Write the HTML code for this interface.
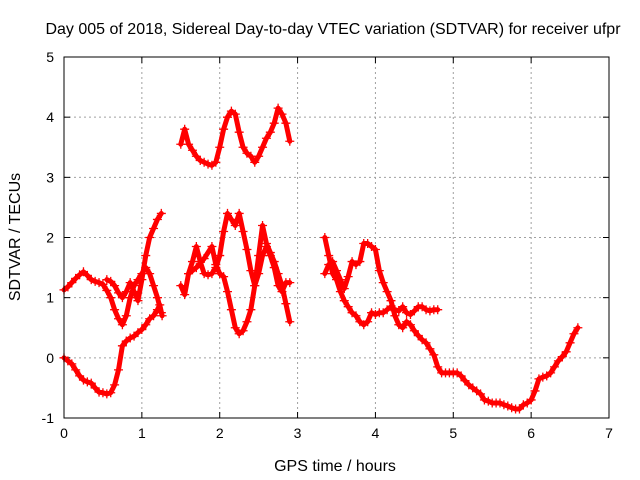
<!DOCTYPE html>
<html><head><meta charset="utf-8"><style>
body{margin:0;background:#fff;}
svg{display:block;font-family:"Liberation Sans",sans-serif;}
</style></head><body>
<svg id="chart" width="640" height="480" xmlns="http://www.w3.org/2000/svg">
<text x="333" y="34" font-size="16" text-anchor="middle">Day 005 of 2018, Sidereal Day-to-day VTEC variation (SDTVAR) for receiver ufpr</text>
<text x="335" y="471" font-size="16" text-anchor="middle">GPS time / hours</text>
<text transform="translate(20,237) rotate(-90)" font-size="16" text-anchor="middle">SDTVAR / TECUs</text>
<g id="grid"></g><g id="ticks"></g><g id="marks"></g>
<rect x="64" y="57" width="545" height="361" fill="none" stroke="#000" stroke-width="1"/>
</svg>
<script>
const xTicks=[0,1,2,3,4,5,6,7];
const yTicks=[-1,0,1,2,3,4,5];
const traceA=[[0,0],[0.05,-0.05],[0.1,-0.1],[0.15,-0.2],[0.2,-0.3],[0.25,-0.37],[0.3,-0.4],[0.35,-0.42],[0.4,-0.5],[0.45,-0.57],[0.5,-0.58],[0.55,-0.6],[0.6,-0.58],[0.65,-0.45],[0.7,-0.2],[0.75,0.2],[0.8,0.28],[0.85,0.33],[0.9,0.36],[0.95,0.42],[1.0,0.47],[1.05,0.55],[1.1,0.65],[1.15,0.7],[1.2,0.8],[1.23,0.88],[1.26,0.7]];
const traceB=[[0,1.13],[0.05,1.18],[0.1,1.25],[0.15,1.32],[0.2,1.38],[0.25,1.43],[0.3,1.37],[0.35,1.3],[0.4,1.27],[0.45,1.25],[0.5,1.22],[0.55,1.12],[0.6,1.0],[0.65,0.8],[0.7,0.65],[0.75,0.55],[0.8,0.7],[0.85,1.0],[0.9,1.2],[0.95,1.3],[1.0,1.4],[1.05,1.5],[1.1,1.4],[1.15,1.2],[1.2,1.0],[1.25,0.75]];
const traceC=[[0.55,1.3],[0.6,1.27],[0.65,1.2],[0.7,1.08],[0.75,1.0],[0.8,1.1],[0.85,1.25],[0.9,1.1],[0.95,0.95],[1.0,1.3],[1.05,1.7],[1.1,2.0],[1.15,2.15],[1.2,2.3],[1.25,2.4]];
const traceD=[[1.5,3.55],[1.55,3.8],[1.6,3.55],[1.65,3.45],[1.7,3.35],[1.75,3.28],[1.8,3.25],[1.85,3.22],[1.9,3.2],[1.95,3.25],[2.0,3.5],[2.05,3.8],[2.1,4.0],[2.15,4.1],[2.2,4.05],[2.25,3.75],[2.3,3.5],[2.35,3.4],[2.4,3.35],[2.45,3.25],[2.5,3.35],[2.55,3.5],[2.6,3.65],[2.65,3.75],[2.7,3.9],[2.75,4.15],[2.8,4.05],[2.85,3.9],[2.9,3.6]];
const traceE=[[1.5,1.2],[1.55,1.05],[1.6,1.4],[1.65,1.6],[1.7,1.85],[1.75,1.6],[1.8,1.4],[1.85,1.38],[1.9,1.4],[1.95,1.5],[2.0,1.7],[2.05,2.1],[2.1,2.4],[2.15,2.3],[2.2,2.2],[2.25,2.4],[2.3,2.1],[2.35,1.8],[2.4,1.45],[2.45,1.2],[2.5,1.4],[2.55,1.7],[2.6,1.85],[2.65,1.7],[2.7,1.5],[2.75,1.2],[2.8,1.1],[2.85,1.25],[2.9,1.25]];
const traceF=[[1.6,1.4],[1.7,1.5],[1.8,1.65],[1.9,1.85],[1.95,1.55],[2.0,1.4],[2.05,1.35],[2.1,1.1],[2.15,0.8],[2.2,0.5],[2.25,0.4],[2.3,0.45],[2.35,0.6],[2.4,0.8],[2.45,1.2],[2.5,1.7],[2.55,2.2],[2.6,1.9],[2.65,1.75],[2.7,1.6],[2.75,1.4],[2.8,1.2],[2.85,0.9],[2.9,0.6]];
const traceG=[[3.35,2.0],[3.4,1.7],[3.45,1.4],[3.5,1.3],[3.55,1.1],[3.6,0.95],[3.65,0.85],[3.7,0.75],[3.75,0.7],[3.8,0.6],[3.85,0.55],[3.9,0.6],[3.95,0.75],[4.0,0.72],[4.05,0.75],[4.1,0.75],[4.15,0.8],[4.2,0.85],[4.25,0.8],[4.3,0.78],[4.35,0.85],[4.4,0.75],[4.45,0.72],[4.5,0.78],[4.55,0.85],[4.6,0.85],[4.65,0.8],[4.7,0.78],[4.75,0.8],[4.8,0.8]];
const traceH=[[3.35,1.4],[3.4,1.55],[3.45,1.6],[3.5,1.45],[3.55,1.3],[3.6,1.15],[3.65,1.35],[3.7,1.6],[3.75,1.55],[3.8,1.6],[3.85,1.9],[3.9,1.9],[3.95,1.85],[4.0,1.8],[4.05,1.45],[4.1,1.25],[4.15,1.1],[4.2,0.95],[4.25,0.7],[4.3,0.55],[4.35,0.5],[4.4,0.6],[4.45,0.55],[4.5,0.45],[4.55,0.37],[4.6,0.3],[4.65,0.25],[4.7,0.15],[4.75,0.05],[4.8,-0.15],[4.85,-0.25],[4.9,-0.25],[4.95,-0.25],[5.0,-0.25],[5.05,-0.25],[5.1,-0.3],[5.15,-0.38],[5.2,-0.45],[5.25,-0.5],[5.3,-0.55],[5.35,-0.6],[5.4,-0.7],[5.45,-0.72],[5.5,-0.75],[5.55,-0.75],[5.6,-0.75],[5.65,-0.78],[5.7,-0.8],[5.75,-0.83],[5.8,-0.85],[5.85,-0.85],[5.9,-0.78],[5.95,-0.75],[6.0,-0.7],[6.05,-0.55],[6.1,-0.35],[6.15,-0.32],[6.2,-0.3],[6.25,-0.25],[6.3,-0.15],[6.35,-0.05],[6.4,0.02],[6.45,0.1],[6.5,0.25],[6.55,0.4],[6.6,0.5]];
const traces=[traceA,traceB,traceC,traceD,traceE,traceF,traceG,traceH];
const NS='http://www.w3.org/2000/svg';
const X0=64,X1=609,Y0=418,Y1=57;
function sx(h){return X0+(h-0)/(7-0)*(X1-X0);}
function sy(v){return Y0-(v-(-1))/(5-(-1))*(Y0-Y1);}
function mk(t,a,p){const e=document.createElementNS(NS,t);for(const k in a)e.setAttribute(k,a[k]);p.appendChild(e);return e;}
const grid=document.getElementById('grid'),ticks=document.getElementById('ticks'),marks=document.getElementById('marks');
xTicks.forEach(t=>{const x=sx(t);
 if(t>0&&t<7){const g=mk('line',{x1:x,x2:x,y1:Y1,y2:Y0,stroke:'#a0a0a0','stroke-dasharray':'2,3'},grid);
 
 }
 mk('line',{x1:x,x2:x,y1:Y0,y2:Y0-6,stroke:'#000'},ticks);mk('line',{x1:x,x2:x,y1:Y1,y2:Y1+6,stroke:'#000'},ticks);
 const l=mk('text',{x:x,y:Y0+20,'font-size':14,'text-anchor':'middle'},ticks);l.textContent=t;
 
 });
yTicks.forEach(t=>{const y=sy(t);
 if(t>-1&&t<5){const g=mk('line',{x1:X0,x2:X1,y1:y,y2:y,stroke:'#a0a0a0','stroke-dasharray':'2,3'},grid);
 
 }
 mk('line',{x1:X0,x2:X0+6,y1:y,y2:y,stroke:'#000'},ticks);mk('line',{x1:X1,x2:X1-6,y1:y,y2:y,stroke:'#000'},ticks);
 const l=mk('text',{x:X0-10,y:y+5,'font-size':14,'text-anchor':'end'},ticks);l.textContent=t;
 
 });
traces.forEach((tr,i)=>{
 const g=mk('g',{},marks);
 
 
 const pts=tr.map(p=>sx(p[0])+','+sy(p[1])).join(' ');
 mk('polyline',{points:pts,fill:'none',stroke:'#ff0000','stroke-width':5,'stroke-linejoin':'round','stroke-linecap':'round'},g);
 tr.forEach(p=>{const x=sx(p[0]),y=sy(p[1]);
  const m=mk('path',{d:`M${x-4.5},${y}H${x+4.5}M${x},${y-4.5}V${y+4.5}`,stroke:'#ff0000','stroke-width':1.3},g);
  
  });
});
</script>
</body></html>
